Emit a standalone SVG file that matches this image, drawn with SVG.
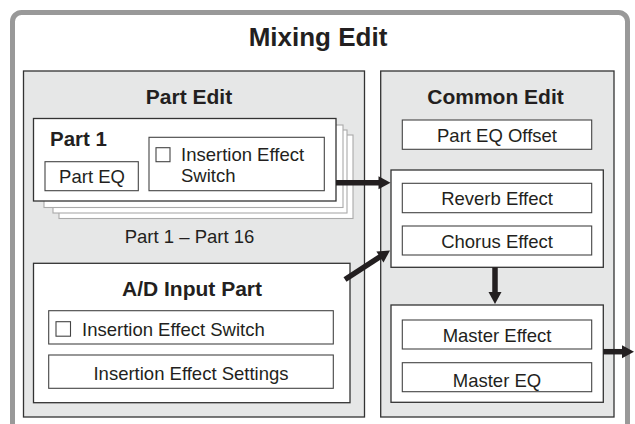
<svg xmlns="http://www.w3.org/2000/svg" width="635" height="424" viewBox="0 0 635 424">
<style>
text{font-family:"Liberation Sans",Arial,sans-serif;fill:#231f20}
.t{font-size:18.5px;text-anchor:middle}
.tl{font-size:18.5px}
.b{font-weight:bold;font-size:21px;text-anchor:middle}
.panel{fill:#e6e7e7;stroke:#333;stroke-width:1.3}
.box{fill:#fff;stroke:#333;stroke-width:1.3}
.ibox{fill:#fff;stroke:#444;stroke-width:1.1}
.ghost{fill:#fff;stroke:#aaa;stroke-width:1.1}
.chk{fill:#fff;stroke:#444;stroke-width:1.1}
.arr{stroke:#231f20;stroke-width:5.5;fill:none}
.head{fill:#231f20}
</style>
<defs>
<path id="ahead" d="M-12,-6.5 L0,0 L-12,6.5 Z"/>
</defs>
<rect width="635" height="424" fill="#fff"/>
<g id="mixing-edit">
<rect x="12.5" y="12.5" width="615" height="430" rx="9" fill="#fff" stroke="#999" stroke-width="5"/>
<text x="318" y="45.5" class="b" style="font-size:26px">Mixing Edit</text>
</g>
<g id="part-edit">
<rect x="23.5" y="71" width="341" height="346" class="panel"/>
<text x="189" y="104" class="b">Part Edit</text>
</g>
<g id="part1">
<rect x="59" y="135" width="294" height="83.5" class="ghost"/>
<rect x="53" y="130" width="294" height="83" class="ghost"/>
<rect x="44" y="125" width="299" height="82.5" class="ghost"/>
<rect x="33.5" y="118.5" width="302.5" height="82.5" class="box"/>
<text x="50" y="146" style="font-weight:bold;font-size:20.5px">Part 1</text>
</g>
<g id="part-eq">
<rect x="45" y="161.7" width="93.3" height="29" class="ibox"/>
<text x="92" y="182.7" class="t">Part EQ</text>
</g>
<g id="part-ins-switch">
<rect x="149" y="137.3" width="175.3" height="53.4" class="ibox"/>
<rect x="156" y="147.7" width="14" height="14" class="chk"/>
<text x="181" y="161" class="tl">Insertion Effect</text>
<text x="181" y="181.7" class="tl">Switch</text>
</g>
<g id="part-range-label">
<text x="189.5" y="243.3" class="t">Part 1 – Part 16</text>
</g>
<g id="ad-input-part">
<rect x="33.5" y="263.3" width="316.5" height="139.4" class="box"/>
<text x="192" y="295.7" class="b">A/D Input Part</text>
</g>
<g id="ad-ins-switch">
<rect x="48.7" y="310.7" width="284.6" height="33.3" class="ibox"/>
<rect x="56" y="321.7" width="14.5" height="14.5" class="chk"/>
<text x="82" y="336" class="tl">Insertion Effect Switch</text>
</g>
<g id="ad-ins-settings">
<rect x="48.7" y="355" width="284.6" height="33.3" class="ibox"/>
<text x="191" y="380" class="t">Insertion Effect Settings</text>
</g>
<g id="common-edit">
<rect x="380.7" y="71" width="233.3" height="346" class="panel"/>
<text x="495.5" y="104" class="b">Common Edit</text>
</g>
<g id="part-eq-offset">
<rect x="402.3" y="120" width="189.4" height="29.3" class="ibox"/>
<text x="497" y="141.7" class="t">Part EQ Offset</text>
</g>
<g id="effects-block">
<rect x="391" y="170" width="212.3" height="97.3" class="box"/>
</g>
<g id="reverb-effect">
<rect x="402.3" y="183.3" width="189.4" height="29.4" class="ibox"/>
<text x="497" y="205" class="t">Reverb Effect</text>
</g>
<g id="chorus-effect">
<rect x="402.3" y="226" width="189.4" height="29" class="ibox"/>
<text x="497" y="248.3" class="t">Chorus Effect</text>
</g>
<g id="master-block">
<rect x="391" y="305" width="212.3" height="97.3" class="box"/>
</g>
<g id="master-effect">
<rect x="402.3" y="320" width="189.4" height="29" class="ibox"/>
<text x="497" y="341.7" class="t">Master Effect</text>
</g>
<g id="master-eq">
<rect x="402.3" y="362.7" width="189.4" height="29" class="ibox"/>
<text x="497" y="387" class="t">Master EQ</text>
</g>
<g id="connectors">
<line x1="336" y1="182.7" x2="380" y2="182.7" class="arr"/>
<use href="#ahead" class="head" transform="translate(390.5,182.7)"/>
<line x1="345" y1="279.5" x2="382" y2="255.5" class="arr"/>
<use href="#ahead" class="head" transform="translate(390,250.5) rotate(-33)"/>
<line x1="495" y1="267.3" x2="495" y2="294" class="arr"/>
<use href="#ahead" class="head" transform="translate(495,304) rotate(90)"/>
<line x1="603.3" y1="351.7" x2="624" y2="351.7" class="arr"/>
<use href="#ahead" class="head" transform="translate(634,351.7)"/>
</g>
</svg>
